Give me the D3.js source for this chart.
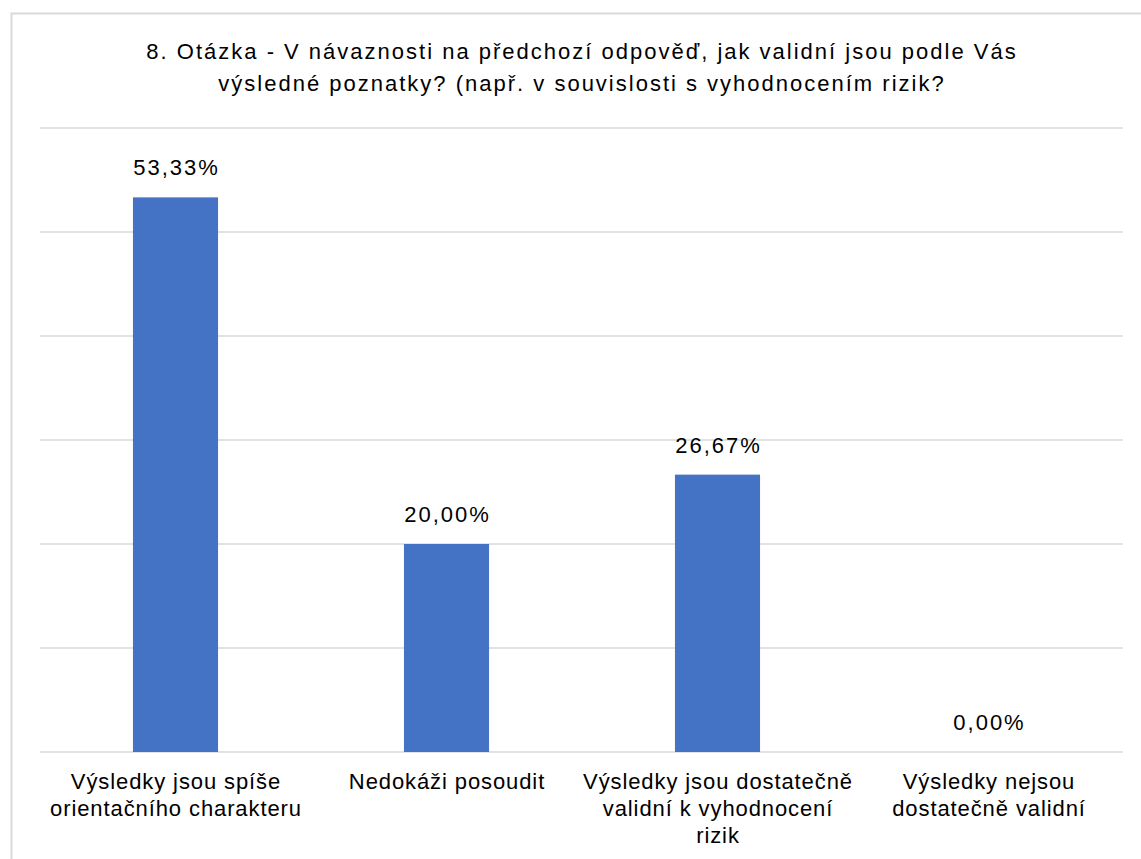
<!DOCTYPE html>
<meta charset="utf-8">
<style>
    html, body { margin: 0; background: #fff; }
    text { font-family: "Liberation Sans", Arial, sans-serif; fill: #000; }
    .grid line { stroke: #d9d9d9; stroke-width: 1.5px; }
    .bar { fill: #4472c4; }
</style>
<body>
<script src="https://d3js.org/d3.v7.min.js"></script>
<script>
    var categories = [
        ["Výsledky jsou spíše", "orientačního charakteru"],
        ["Nedokáži posoudit"],
        ["Výsledky jsou dostatečně", "validní k vyhodnocení", "rizik"],
        ["Výsledky nejsou", "dostatečně validní"]
    ];
    var values = [53.33, 20.00, 26.67, 0.00];
    var yTicks = [0, 10, 20, 30, 40, 50, 60];
    var titleLines = [
        "8. Otázka - V návaznosti na předchozí odpověď, jak validní jsou podle Vás",
        "výsledné poznatky? (např. v souvislosti s vyhodnocením rizik?"
    ];

    var width = 1141, height = 859;
    var margin = { left: 40, right: 17, top: 128, bottom: 107 };

    var svg = d3.select("body").append("svg")
        .attr("width", width)
        .attr("height", height);

    // chart border (runs off right and bottom edge)
    svg.append("rect")
        .attr("x", 11.5).attr("y", 13.5)
        .attr("width", 1140).attr("height", 860)
        .attr("fill", "none")
        .attr("stroke", "#d9d9d9")
        .attr("stroke-width", 2);

    var x = d3.scaleBand()
        .domain(d3.range(categories.length))
        .range([margin.left, width - margin.right])
        .paddingInner(0.686)
        .paddingOuter(0.343);

    var y = d3.scaleLinear()
        .domain([0, 60])
        .range([height - margin.bottom, margin.top]);

    svg.append("g").attr("class", "grid")
        .selectAll("line")
        .data(yTicks)
        .enter().append("line")
        .attr("x1", margin.left)
        .attr("x2", width - margin.right - 1)
        .attr("y1", function (d) { return y(d); })
        .attr("y2", function (d) { return y(d); });

    svg.selectAll(".bar")
        .data(values)
        .enter().append("rect")
        .attr("class", "bar")
        .attr("x", function (d, i) { return x(i); })
        .attr("width", x.bandwidth())
        .attr("y", function (d) { return y(d); })
        .attr("height", function (d) { return y(0) - y(d); });

    svg.selectAll(".val")
        .data(values)
        .enter().append("text")
        .attr("class", "val")
        .attr("x", function (d, i) { return x(i) + x.bandwidth() / 2 + 1; })
        .attr("y", function (d) { return y(d) - 22; })
        .attr("text-anchor", "middle")
        .style("font-size", "22px")
        .style("letter-spacing", "2px")
        .text(function (d) { return d.toFixed(2).replace(".", ",") + "%"; });

    var cat = svg.selectAll(".cat")
        .data(categories)
        .enter().append("text")
        .attr("class", "cat")
        .attr("text-anchor", "middle")
        .style("font-size", "22px")
        .style("letter-spacing", "0.9px")
        .attr("transform", function (d, i) {
            return "translate(" + (x(i) + x.bandwidth() / 2 + 0.5) + "," + (y(0) + 37) + ")";
        });
    cat.selectAll("tspan")
        .data(function (d) { return d; })
        .enter().append("tspan")
        .attr("x", 0)
        .attr("dy", function (d, i) { return i === 0 ? 0 : 27; })
        .text(function (d) { return d; });

    svg.append("text")
        .attr("text-anchor", "middle")
        .style("font-size", "22px")
        .style("letter-spacing", "2px")
        .selectAll("tspan")
        .data(titleLines)
        .enter().append("tspan")
        .attr("x", 582)
        .attr("y", function (d, i) { return 59 + i * 32; })
        .text(function (d) { return d; });
</script>
</body>
